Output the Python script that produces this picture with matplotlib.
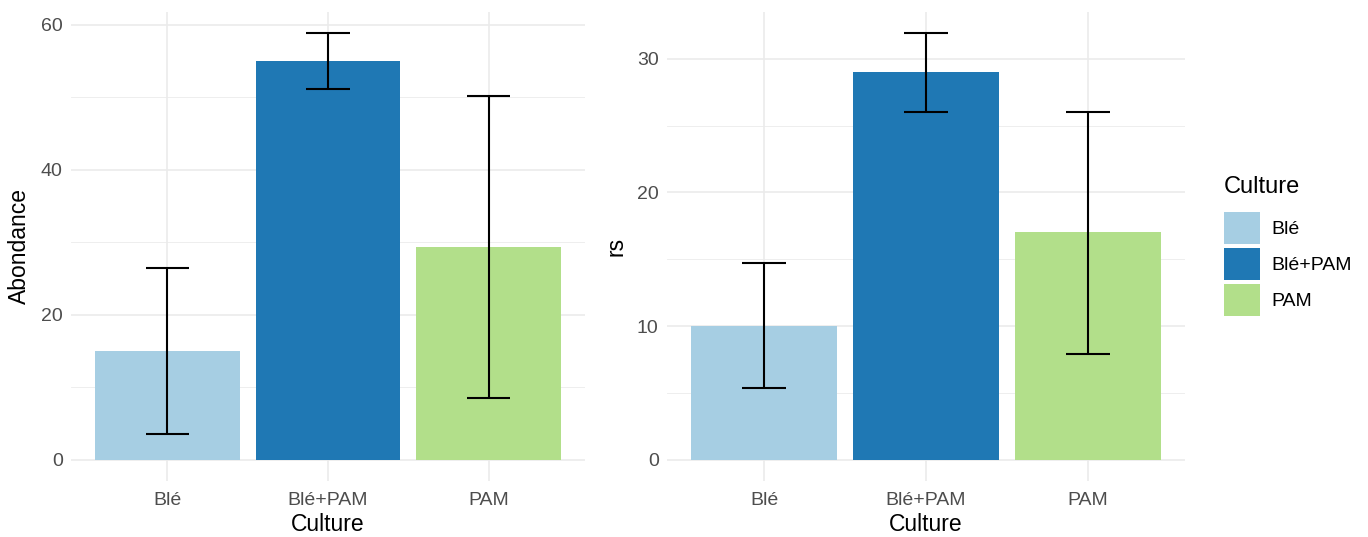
import matplotlib
matplotlib.use("Agg")
import matplotlib.pyplot as plt
from matplotlib.patches import Patch
from matplotlib.ticker import MultipleLocator

categories = ["Blé", "Blé+PAM", "PAM"]
colors = ["#A6CEE3", "#1F78B4", "#B2DF8A"]

abond_mean = [15.0, 55.0, 29.4]
abond_low = [3.6, 51.2, 8.5]
abond_high = [26.5, 58.9, 50.2]

rs_mean = [10.0, 29.0, 17.0]
rs_low = [5.4, 26.0, 7.9]
rs_high = [14.7, 31.9, 26.0]

plt.rcParams['font.family'] = ['Liberation Sans', 'DejaVu Sans']

W, H = 1368, 537
fig = plt.figure(figsize=(W / 100, H / 100), dpi=100)

def px_axes(x0, y0, x1, y1):
    return fig.add_axes([x0 / W, 1 - y1 / H, (x1 - x0) / W, (y1 - y0) / H])

ax1 = px_axes(71, 11.6, 585, 481)
ax2 = px_axes(667, 12, 1185, 481)

def draw(ax, mean, low, high, ylabel, major, minor):
    x = list(range(len(categories)))
    ax.set_axisbelow(True)
    ax.bar(x, mean, width=0.9, color=colors, zorder=2)
    ax.vlines(x, low, high, color="black", linewidth=1.5, zorder=3)
    ax.hlines(low, [i - 0.135 for i in x], [i + 0.135 for i in x], color="black", linewidth=1.5, zorder=3)
    ax.hlines(high, [i - 0.135 for i in x], [i + 0.135 for i in x], color="black", linewidth=1.5, zorder=3)
    top = max(high)
    pad = top * 0.05
    ax.set_ylim(-pad, top + pad)
    ax.set_xlim(-0.6, len(categories) - 0.4)
    ax.yaxis.set_major_locator(MultipleLocator(major))
    ax.yaxis.set_minor_locator(MultipleLocator(minor))
    ax.set_xticks(x)
    ax.set_xticklabels(categories)
    ax.grid(which="major", color="#EBEBEB", linewidth=1.2, zorder=0)
    ax.grid(which="minor", axis="y", color="#EBEBEB", linewidth=0.6, zorder=0)
    for s in ax.spines.values():
        s.set_visible(False)
    ax.tick_params(which="both", length=0, labelsize=14, labelcolor="#4D4D4D", pad=6)
    ax.tick_params(axis="x", pad=8)
    ax.set_xlabel("Culture", fontsize=16.5, labelpad=3)
    ax.set_ylabel(ylabel, fontsize=16.5, labelpad=7)

draw(ax1, abond_mean, abond_low, abond_high, "Abondance", 20, 10)
draw(ax2, rs_mean, rs_low, rs_high, "rs", 10, 5)

handles = [Patch(facecolor=c, edgecolor="none") for c in colors]
leg = fig.legend(handles, categories, title="Culture", loc="upper left",
                 bbox_to_anchor=(1216 / W, 1 - 168 / H), frameon=False,
                 fontsize=14, title_fontsize=17, handlelength=1.85, handleheight=2.15,
                 labelspacing=0.22, handletextpad=0.6, borderaxespad=0)
leg._legend_box.align = "left"
leg._legend_box.sep = 10

fig.savefig("out.png", dpi=100)
